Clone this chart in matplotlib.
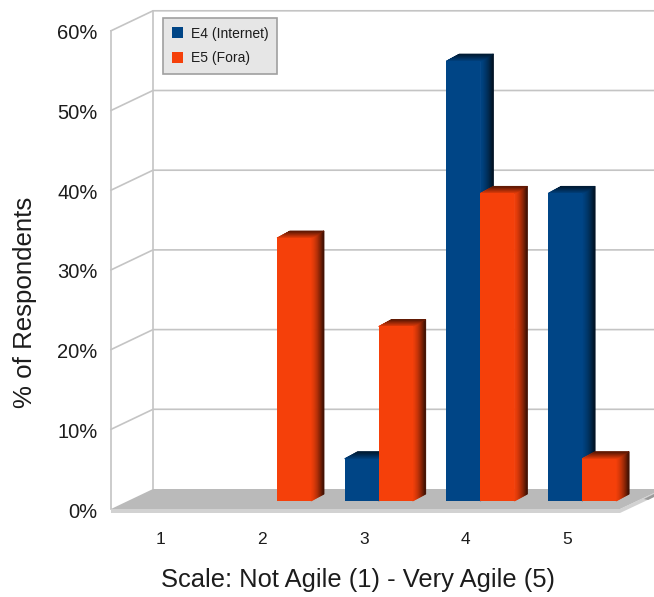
import numpy as np
import matplotlib
matplotlib.use("Agg")
import matplotlib.pyplot as plt
from matplotlib.colors import to_rgb
from matplotlib.patches import Polygon, Patch
from matplotlib.transforms import Affine2D, ScaledTranslation

plt.rcParams["font.family"] = ["Liberation Sans", "DejaVu Sans"]

W, H = 654, 597

# survey data (% of respondents)
categories = ["1", "2", "3", "4", "5"]
e4_internet = [0, 0, 5.3, 55.2, 38.6]
e5_fora = [0, 33.0, 21.9, 38.6, 5.3]
y_ticks = [0, 10, 20, 30, 40, 50, 60]

BLUE = "#004586"
ORANGE = "#f5400a"
GRID = "#c4c4c4"
TEXT = "#1c1c1c"

# pixel scale of the bar plane
PX_CAT = 101.7
PX_PCT = 7.97
BAR_W = 34 / PX_CAT
DEPTH = (13, 7)  # bar depth in pixels

fig = plt.figure(figsize=(W / 100, H / 100), dpi=100)
left, right, bottom, top = 128, 654, 501, 501 - 60 * PX_PCT
ax = fig.add_axes([left / W, 1 - bottom / H, (right - left) / W, (bottom - top) / H])
ax.set_xlim(2 - (277 - left) / PX_CAT, 2 + (right - 277) / PX_CAT)
ax.set_ylim(0, 60)
for s in ax.spines.values():
    s.set_visible(False)

# pixel coordinates, y down, for the box drawn behind the bars
px = Affine2D().scale(1, -1).translate(0, H)


def frame():
    fx, bx = 111, 153
    for v in y_ticks:
        yb = 489 - v * PX_PCT
        yf = 509 - v * PX_PCT
        if v > 0:
            ax.plot([fx, bx, W], [yf, yb, yb], color=GRID, lw=1.2,
                    transform=px, clip_on=False, zorder=1)
    ax.plot([fx, fx], [509, 509 - 60 * PX_PCT], color=GRID, lw=1.2, transform=px, clip_on=False, zorder=1)
    ax.plot([bx, bx], [489, 489 - 60 * PX_PCT], color=GRID, lw=1.2, transform=px, clip_on=False, zorder=1)
    # floor slab
    ax.add_patch(Polygon([(111, 509), (111, 513), (620, 513), (654, 497), (654, 493), (620, 509)],
                         closed=True, fc="#d2d2d2", ec="none", transform=px, clip_on=False, zorder=1.1))
    ax.add_patch(Polygon([(111, 509), (153, 489), (654, 489), (654, 493), (620, 509)],
                         closed=True, fc="#bababa", ec="none", transform=px, clip_on=False, zorder=1.2))
    ax.add_patch(Polygon([(644, 499), (654, 494), (654, 497), (648, 500)],
                         closed=True, fc="#9a9a9a", ec="none", transform=px, clip_on=False, zorder=1.3))


def mix(c, k):
    return tuple(np.array(to_rgb(c)) * k)


def bar3d(x, v, color, z):
    """Front face through ax.bar, then shaded side and top faces."""
    if v <= 0:
        return None
    rect = ax.bar(x, v, BAR_W, align="edge", color=color, lw=0, zorder=z + 0.2)[0]
    ddx, ddy = DEPTH[0] / PX_CAT, DEPTH[1] / PX_PCT
    n = 14
    for i in range(n):
        t0, t1 = i / n, (i + 1) / n
        # side face stays flat at first, then falls off to the back edge
        side = mix(color, 1 - 0.72 * t1 ** 1.6)
        ax.add_patch(Polygon([(x + BAR_W + t0 * ddx, t0 * ddy),
                              (x + BAR_W + t1 * ddx, t1 * ddy),
                              (x + BAR_W + t1 * ddx, v + t1 * ddy),
                              (x + BAR_W + t0 * ddx, v + t0 * ddy)],
                             closed=True, fc=side, ec=side, lw=0.6, zorder=z, clip_on=False))
        # top face
        topc = mix(color, 1 - 0.6 * t1)
        ax.add_patch(Polygon([(x + t0 * ddx, v + t0 * ddy),
                              (x + BAR_W + t0 * ddx, v + t0 * ddy),
                              (x + BAR_W + t1 * ddx, v + t1 * ddy),
                              (x + t1 * ddx, v + t1 * ddy)],
                             closed=True, fc=topc, ec=topc, lw=0.6, zorder=z + 0.1, clip_on=False))
    return rect


frame()

xs = np.arange(1, len(categories) + 1)
for i, c in enumerate(xs):
    bar3d(c - BAR_W, e4_internet[i], BLUE, 2 + i)
    bar3d(c, e5_fora[i], ORANGE, 2.5 + i)

# tick labels sit on the front edge of the box, so they are shifted off the bar plane
ax.set_xticks(xs, categories)
ax.set_yticks(y_ticks, [f"{v}%" for v in y_ticks])
ax.tick_params(axis="both", length=0, colors=TEXT)
ax.tick_params(axis="x", labelsize=12.5, pad=22.5)
ax.tick_params(axis="y", labelsize=14.5, pad=22)
shift_x = ScaledTranslation(-15 / 100, 0, fig.dpi_scale_trans)
shift_y = ScaledTranslation(0, -9 / 100, fig.dpi_scale_trans)
for lab in ax.get_xticklabels():
    lab.set_transform(lab.get_transform() + shift_x)
for lab in ax.get_yticklabels():
    lab.set_transform(lab.get_transform() + shift_y)

fig.text(358 / W, 1 - 580 / H, "Scale: Not Agile (1) - Very Agile (5)", ha="center", va="center",
         fontsize=18.4, color=TEXT)
fig.text(25 / W, 1 - 302 / H, "% of Respondents", ha="center", va="center", rotation=90,
         fontsize=18.6, color=TEXT)

handles = [Patch(fc=BLUE, ec="none", label="E4 (Internet)"),
           Patch(fc=ORANGE, ec="none", label="E5 (Fora)")]
leg = ax.legend(handles=handles, loc="upper left", bbox_to_anchor=(163 / W, 1 - 18 / H),
                bbox_transform=fig.transFigure, fontsize=10, fancybox=False, framealpha=1,
                facecolor="#e6e6e6", edgecolor="#a0a0a0", handlelength=0.85, handleheight=0.85,
                handletextpad=0.55, labelspacing=0.75, borderaxespad=0, borderpad=0.62,
                labelcolor=TEXT)
leg.set_zorder(20)
leg.get_frame().set_linewidth(1.2)

fig.savefig("out.png", dpi=100)
